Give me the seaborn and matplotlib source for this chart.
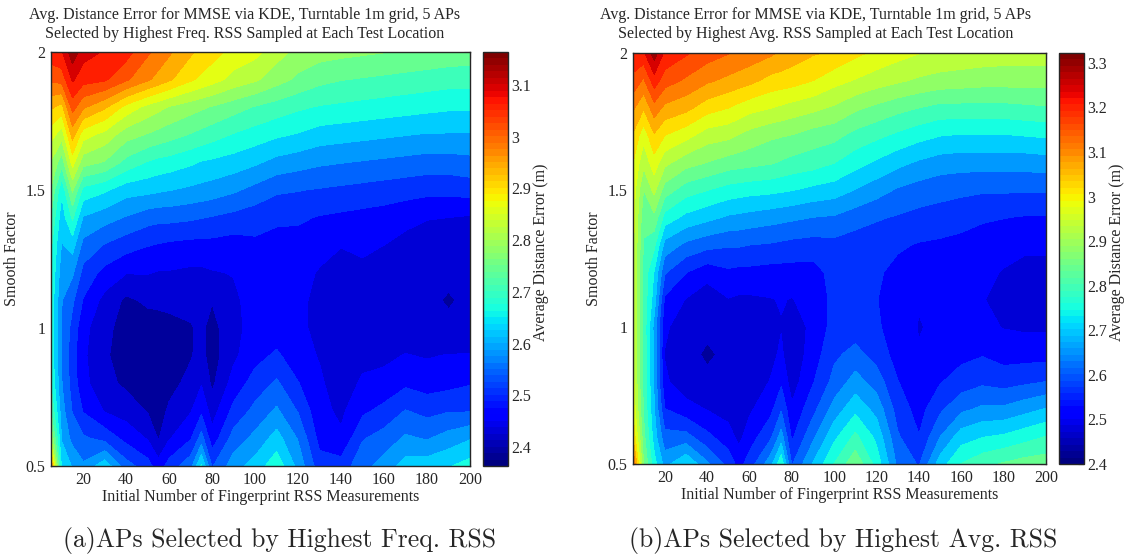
import numpy as np
import matplotlib
matplotlib.use("Agg")
import matplotlib.pyplot as plt
import seaborn as sns

# grid of the two surfaces
n_meas = [5, 10, 15, 20, 30, 40, 50, 55, 60, 70, 75, 80, 90, 100,
          110, 120, 130, 140, 150, 160, 170, 180, 190, 200]
smooth = [0.5, 0.6, 0.7, 0.8, 0.9, 1.0, 1.1, 1.2, 1.3, 1.4, 1.5, 1.6, 1.7, 1.8, 1.9, 2.0]

# avg distance error (m), one list per n_meas value, smooth 0.5 -> 2.0
# (a) APs selected by highest freq. RSS
err_freq = [
    [2.97, 2.80, 2.72, 2.68, 2.67, 2.67, 2.67, 2.68, 2.69, 2.72, 2.76, 2.80, 2.86, 2.93, 3.01, 3.07],
    [2.63, 2.60, 2.58, 2.565, 2.56, 2.56, 2.565, 2.58, 2.60, 2.62, 2.65, 2.74, 2.82, 2.91, 3.02, 3.08],
    [2.60, 2.55, 2.52, 2.505, 2.50, 2.51, 2.53, 2.57, 2.62, 2.69, 2.77, 2.86, 2.94, 3.02, 3.09, 3.15],
    [2.57, 2.53, 2.48, 2.455, 2.45, 2.455, 2.48, 2.51, 2.55, 2.60, 2.67, 2.78, 2.86, 2.97, 3.06, 3.10],
    [2.63, 2.51, 2.44, 2.415, 2.41, 2.415, 2.43, 2.47, 2.52, 2.58, 2.65, 2.76, 2.83, 2.93, 3.05, 3.08],
    [2.54, 2.47, 2.425, 2.395, 2.38, 2.385, 2.395, 2.445, 2.50, 2.56, 2.62, 2.71, 2.78, 2.87, 3.01, 3.06],
    [2.50, 2.44, 2.40, 2.38, 2.375, 2.385, 2.41, 2.445, 2.485, 2.54, 2.615, 2.68, 2.76, 2.83, 2.97, 3.01],
    [2.46, 2.40, 2.385, 2.375, 2.375, 2.39, 2.41, 2.44, 2.48, 2.535, 2.61, 2.67, 2.75, 2.815, 2.95, 2.99],
    [2.50, 2.44, 2.41, 2.39, 2.385, 2.395, 2.41, 2.44, 2.475, 2.535, 2.605, 2.665, 2.74, 2.80, 2.93, 2.97],
    [2.55, 2.48, 2.44, 2.415, 2.40, 2.40, 2.415, 2.435, 2.47, 2.53, 2.595, 2.65, 2.72, 2.78, 2.89, 2.93],
    [2.65, 2.54, 2.475, 2.44, 2.415, 2.41, 2.42, 2.435, 2.47, 2.525, 2.59, 2.64, 2.71, 2.77, 2.875, 2.91],
    [2.52, 2.46, 2.425, 2.395, 2.385, 2.39, 2.405, 2.44, 2.47, 2.52, 2.585, 2.635, 2.70, 2.76, 2.86, 2.90],
    [2.585, 2.54, 2.495, 2.46, 2.435, 2.43, 2.435, 2.445, 2.465, 2.51, 2.57, 2.625, 2.68, 2.74, 2.83, 2.87],
    [2.62, 2.575, 2.535, 2.50, 2.47, 2.46, 2.46, 2.465, 2.475, 2.50, 2.55, 2.61, 2.665, 2.72, 2.81, 2.855],
    [2.67, 2.62, 2.57, 2.53, 2.49, 2.46, 2.455, 2.46, 2.47, 2.49, 2.53, 2.59, 2.65, 2.705, 2.78, 2.82],
    [2.59, 2.56, 2.52, 2.485, 2.46, 2.45, 2.45, 2.455, 2.465, 2.49, 2.525, 2.58, 2.64, 2.69, 2.755, 2.79],
    [2.50, 2.47, 2.455, 2.45, 2.44, 2.435, 2.435, 2.44, 2.455, 2.48, 2.52, 2.57, 2.625, 2.68, 2.735, 2.78],
    [2.50, 2.45, 2.435, 2.42, 2.41, 2.405, 2.415, 2.425, 2.445, 2.475, 2.515, 2.565, 2.62, 2.675, 2.725, 2.775],
    [2.55, 2.52, 2.475, 2.45, 2.43, 2.42, 2.425, 2.435, 2.45, 2.47, 2.51, 2.56, 2.615, 2.67, 2.72, 2.77],
    [2.58, 2.54, 2.495, 2.455, 2.435, 2.42, 2.42, 2.43, 2.443, 2.465, 2.505, 2.555, 2.61, 2.665, 2.715, 2.765],
    [2.62, 2.57, 2.525, 2.475, 2.445, 2.42, 2.415, 2.42, 2.43, 2.455, 2.50, 2.55, 2.605, 2.66, 2.71, 2.76],
    [2.625, 2.56, 2.51, 2.465, 2.44, 2.415, 2.41, 2.415, 2.425, 2.445, 2.495, 2.545, 2.60, 2.655, 2.705, 2.755],
    [2.64, 2.58, 2.52, 2.47, 2.445, 2.41, 2.40, 2.41, 2.42, 2.443, 2.495, 2.545, 2.60, 2.65, 2.70, 2.75],
    [2.66, 2.60, 2.52, 2.48, 2.445, 2.415, 2.41, 2.415, 2.42, 2.438, 2.50, 2.55, 2.60, 2.65, 2.70, 2.745],
]
# (b) APs selected by highest avg. RSS
err_avg = [
    [3.15, 3.04, 2.99, 2.97, 2.96, 2.96, 2.96, 2.96, 2.965, 2.97, 2.98, 3.00, 3.04, 3.10, 3.17, 3.22],
    [2.86, 2.83, 2.81, 2.80, 2.80, 2.80, 2.80, 2.80, 2.81, 2.83, 2.86, 2.92, 2.97, 3.05, 3.13, 3.22],
    [2.74, 2.70, 2.68, 2.67, 2.67, 2.66, 2.70, 2.72, 2.78, 2.85, 2.92, 2.98, 3.04, 3.12, 3.21, 3.30],
    [2.66, 2.60, 2.54, 2.50, 2.49, 2.50, 2.53, 2.59, 2.66, 2.75, 2.84, 2.92, 3.00, 3.08, 3.16, 3.22],
    [2.72, 2.60, 2.51, 2.465, 2.46, 2.465, 2.49, 2.54, 2.62, 2.71, 2.79, 2.88, 2.97, 3.06, 3.13, 3.19],
    [2.64, 2.55, 2.49, 2.455, 2.44, 2.455, 2.465, 2.51, 2.60, 2.69, 2.77, 2.86, 2.93, 3.02, 3.10, 3.16],
    [2.57, 2.51, 2.475, 2.46, 2.455, 2.46, 2.49, 2.53, 2.59, 2.67, 2.75, 2.84, 2.92, 3.00, 3.08, 3.14],
    [2.52, 2.48, 2.465, 2.46, 2.46, 2.465, 2.485, 2.525, 2.59, 2.665, 2.745, 2.835, 2.905, 2.985, 3.07, 3.13],
    [2.56, 2.515, 2.485, 2.465, 2.465, 2.47, 2.485, 2.525, 2.585, 2.66, 2.74, 2.83, 2.89, 2.97, 3.06, 3.12],
    [2.66, 2.575, 2.525, 2.495, 2.48, 2.48, 2.49, 2.52, 2.58, 2.65, 2.735, 2.82, 2.87, 2.955, 3.03, 3.10],
    [2.76, 2.65, 2.58, 2.53, 2.50, 2.49, 2.495, 2.52, 2.575, 2.645, 2.73, 2.81, 2.865, 2.945, 3.025, 3.085],
    [2.58, 2.53, 2.50, 2.47, 2.46, 2.465, 2.49, 2.52, 2.57, 2.64, 2.725, 2.80, 2.86, 2.935, 3.02, 3.07],
    [2.68, 2.62, 2.57, 2.535, 2.515, 2.505, 2.51, 2.52, 2.565, 2.63, 2.71, 2.79, 2.84, 2.92, 3.00, 3.05],
    [2.77, 2.71, 2.65, 2.60, 2.575, 2.555, 2.55, 2.555, 2.57, 2.625, 2.70, 2.77, 2.83, 2.90, 2.97, 3.04],
    [2.85, 2.78, 2.71, 2.65, 2.60, 2.56, 2.545, 2.55, 2.56, 2.605, 2.675, 2.74, 2.80, 2.87, 2.95, 3.01],
    [2.75, 2.71, 2.66, 2.61, 2.565, 2.545, 2.54, 2.545, 2.555, 2.59, 2.65, 2.715, 2.78, 2.85, 2.93, 2.99],
    [2.62, 2.59, 2.565, 2.54, 2.52, 2.515, 2.515, 2.525, 2.545, 2.58, 2.625, 2.69, 2.76, 2.83, 2.915, 2.97],
    [2.58, 2.54, 2.52, 2.505, 2.495, 2.49, 2.495, 2.51, 2.535, 2.57, 2.61, 2.67, 2.74, 2.815, 2.90, 2.955],
    [2.70, 2.63, 2.575, 2.535, 2.51, 2.50, 2.50, 2.51, 2.53, 2.565, 2.60, 2.655, 2.725, 2.80, 2.89, 2.945],
    [2.77, 2.70, 2.62, 2.56, 2.525, 2.505, 2.50, 2.505, 2.525, 2.555, 2.595, 2.65, 2.72, 2.80, 2.885, 2.94],
    [2.80, 2.72, 2.64, 2.575, 2.535, 2.505, 2.495, 2.50, 2.515, 2.545, 2.59, 2.65, 2.72, 2.80, 2.88, 2.935],
    [2.82, 2.73, 2.64, 2.565, 2.52, 2.49, 2.475, 2.49, 2.505, 2.54, 2.59, 2.65, 2.72, 2.80, 2.88, 2.93],
    [2.835, 2.75, 2.66, 2.575, 2.52, 2.485, 2.47, 2.48, 2.50, 2.535, 2.59, 2.65, 2.725, 2.805, 2.88, 2.93],
    [2.84, 2.77, 2.68, 2.585, 2.52, 2.485, 2.47, 2.48, 2.50, 2.535, 2.59, 2.655, 2.73, 2.81, 2.88, 2.93],
]

clim_freq = (2.363, 3.164)
clim_avg = (2.4, 3.322)
cb_ticks_freq = [2.4, 2.5, 2.6, 2.7, 2.8, 2.9, 3.0, 3.1]
cb_ticks_avg = [2.4, 2.5, 2.6, 2.7, 2.8, 2.9, 3.0, 3.1, 3.2, 3.3]
x_ticks = [20, 40, 60, 80, 100, 120, 140, 160, 180, 200]
y_ticks = [0.5, 1, 1.5, 2]

title1 = "Avg. Distance Error for MMSE via KDE, Turntable 1m grid, 5 APs"
title2_freq = "Selected by Highest Freq. RSS Sampled at Each Test Location"
title2_avg = "Selected by Highest Avg. RSS Sampled at Each Test Location"
caption_freq = "(a)APs Selected by Highest Freq. RSS"
caption_avg = "(b)APs Selected by Highest Avg. RSS"

sns.set_style("ticks")
plt.rcParams['font.family'] = ['Liberation Serif', 'DejaVu Serif']
plt.rcParams['font.size'] = 11

jet = matplotlib.colormaps["jet"]
jet64 = matplotlib.colors.ListedColormap(jet(np.linspace(0, 1, 64)))

W, H = 1133, 557
fig = plt.figure(figsize=(W / 100, H / 100), dpi=100)


def box(x0, y0, x1, y1):
    # pixel box -> figure fraction
    return [x0 / W, 1 - y1 / H, (x1 - x0) / W, (y1 - y0) / H]


def lab(v):
    return ("%g" % v)


def panel(ax_box, cb_box, err, clim, cb_ticks, t2, cap, tx, capx):
    ax = fig.add_axes(box(*ax_box))
    cax = fig.add_axes(box(*cb_box))
    Z = np.array(err).T
    levels = np.linspace(clim[0], clim[1], 21)
    ax.contourf(n_meas, smooth, Z, levels=levels, cmap=jet,
                vmin=clim[0], vmax=clim[1], extend='both', antialiased=False)
    ax.set_xlim(5, 200)
    ax.set_ylim(0.5, 2)
    ax.set_xticks(x_ticks)
    ax.set_xticklabels([lab(v) for v in x_ticks])
    ax.set_yticks(y_ticks)
    ax.set_yticklabels([lab(v) for v in y_ticks])
    ax.tick_params(direction='in', top=True, right=True, length=4, width=0.8,
                   labelsize=11.5, pad=4)
    for s in ax.spines.values():
        s.set_linewidth(1.0)
    ax.set_xlabel("Initial Number of Fingerprint RSS Measurements", fontsize=11.5)
    ax.xaxis.set_label_coords(0.5, -0.055)
    ax.set_ylabel("Smooth Factor", fontsize=11.5)
    ax.yaxis.set_label_coords(-0.075, 0.5)

    sm = matplotlib.cm.ScalarMappable(norm=plt.Normalize(*clim), cmap=jet64)
    cb = fig.colorbar(sm, cax=cax)
    cb.set_ticks(cb_ticks)
    cb.set_ticklabels([lab(v) for v in cb_ticks])
    cax.tick_params(direction='in', length=4, width=0.8, labelsize=11.5, pad=2)
    cb.outline.set_linewidth(1.0)
    fig.text((cb_box[2] + 33) / W, 1 - 252 / H, "Average Distance Error (m)",
             rotation=90, ha='center', va='center', fontsize=11.5)

    fig.text(tx / W, 1 - 15 / H, title1, ha='center', va='center', fontsize=11.5)
    fig.text(tx / W, 1 - 34 / H, t2, ha='center', va='center', fontsize=11.5)
    fig.text(capx / W, 1 - 540 / H, cap, ha='center', va='center',
             fontsize=18.5, family='cmr10')


panel((51, 52, 470, 466), (483, 52, 508, 466), err_freq, clim_freq, cb_ticks_freq,
      title2_freq, caption_freq, 245, 280)
panel((633, 53, 1046, 464), (1059, 53, 1084, 464), err_avg, clim_avg, cb_ticks_avg,
      title2_avg, caption_avg, 816, 843)

fig.savefig("out.png", dpi=100)
